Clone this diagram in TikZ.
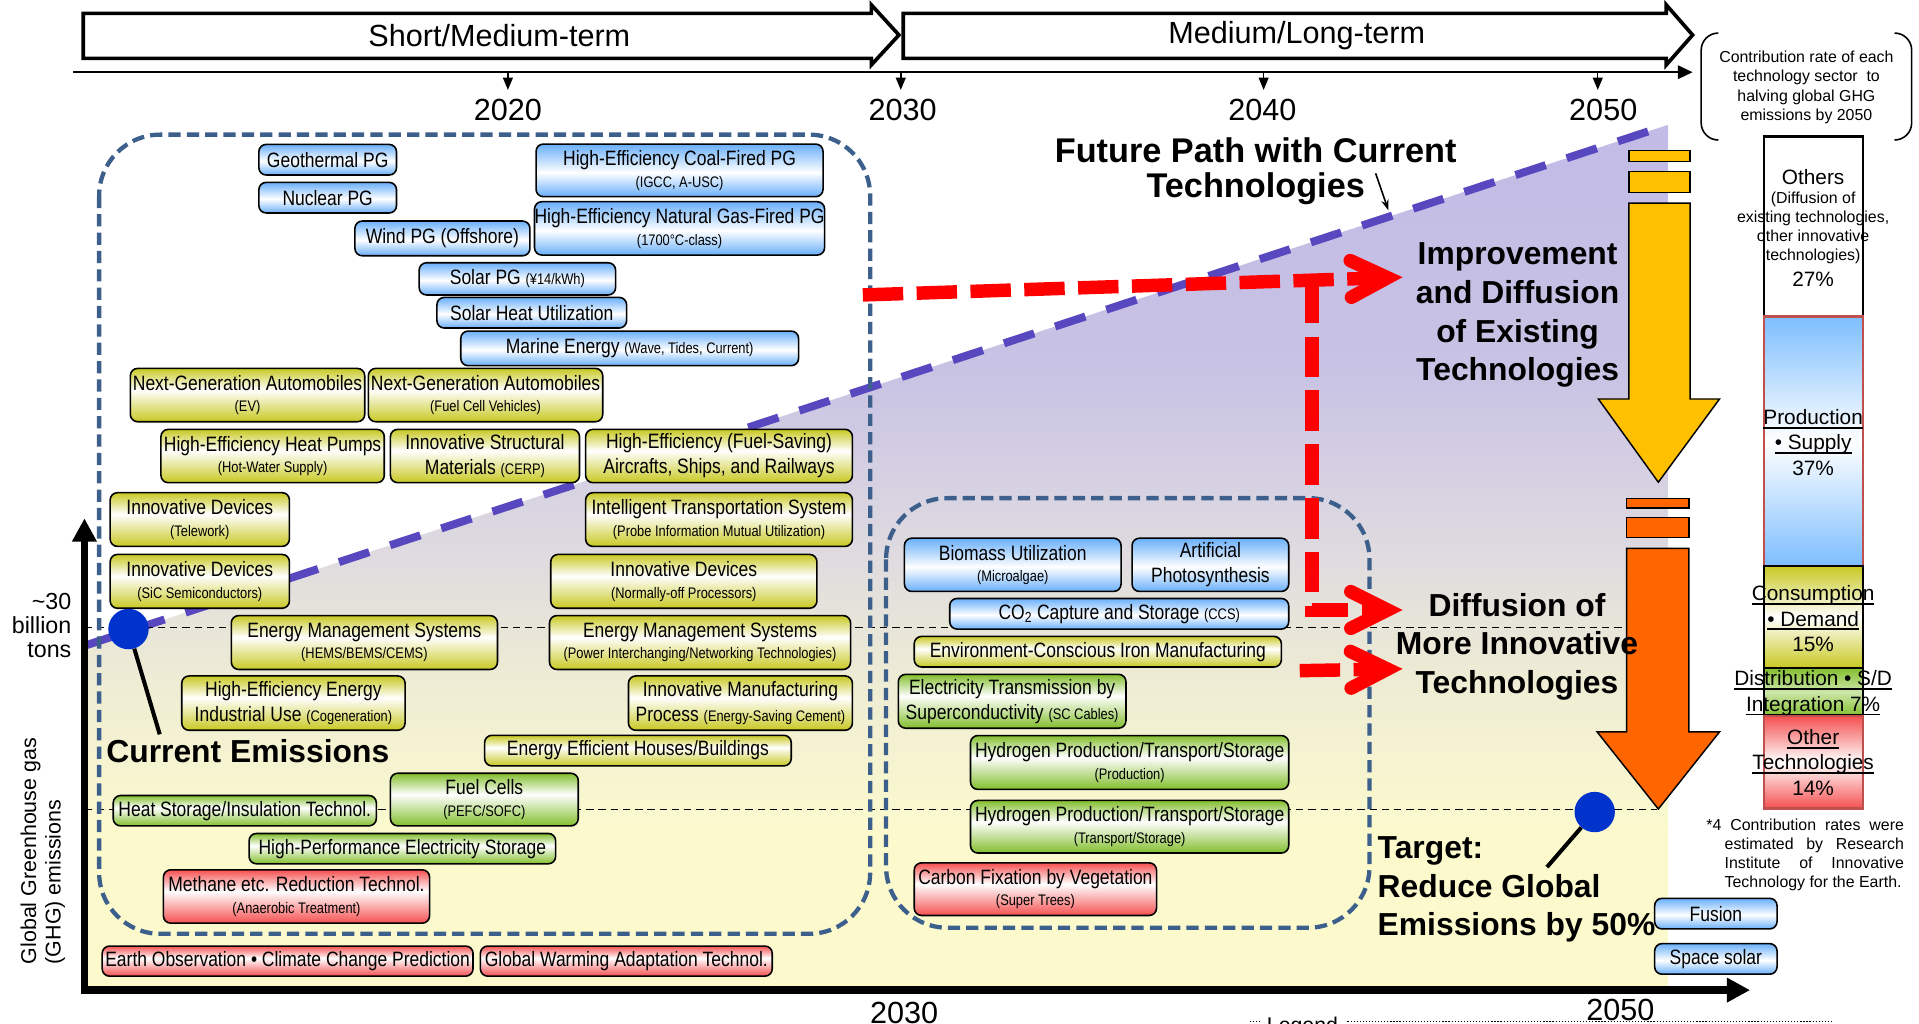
\documentclass[tikz,border=0pt]{standalone}
\usepackage{fontspec}
\setmainfont{Liberation Sans}
\newfontfamily\nar[FakeStretch=0.84]{Liberation Sans}
\usetikzlibrary{arrows.meta}

\definecolor{techblue}{RGB}{105,175,250}
\definecolor{techyel}{RGB}{200,200,35}
\definecolor{techgreen}{RGB}{130,190,45}
\definecolor{techred}{RGB}{245,80,80}
\definecolor{frameblue}{RGB}{61,95,140}
\definecolor{pathpurple}{RGB}{88,72,192}
\definecolor{goldflow}{RGB}{255,192,0}
\definecolor{orangeflow}{RGB}{255,102,0}
\definecolor{dotblue}{RGB}{0,51,204}
\definecolor{barblue}{RGB}{125,190,255}
\definecolor{barred}{RGB}{192,80,77}
\definecolor{bargreen}{RGB}{205,230,170}
\definecolor{bglav}{RGB}{194,187,230}
\definecolor{bglavb}{RGB}{200,194,228}
\definecolor{bggray}{RGB}{222,218,224}
\definecolor{bgyel}{RGB}{238,236,212}
\definecolor{bgyelb}{RGB}{252,250,205}

\pgfdeclareverticalshading{bgshade}{100bp}{color(0bp)=(bgyelb); color(34bp)=(bgyelb); color(43bp)=(bgyel); color(50.5bp)=(bggray); color(61bp)=(bglavb); color(75bp)=(bglav); color(100bp)=(bglav)}
\pgfdeclareverticalshading{blueshade}{100bp}{color(0bp)=(techblue); color(25bp)=(techblue); color(48bp)=(white); color(75bp)=(techblue); color(100bp)=(techblue)}
\pgfdeclareverticalshading{yelshade}{100bp}{color(0bp)=(techyel); color(25bp)=(techyel); color(55bp)=(white); color(75bp)=(techyel); color(100bp)=(techyel)}
\pgfdeclareverticalshading{greenshade}{100bp}{color(0bp)=(techgreen); color(25bp)=(techgreen); color(55bp)=(white); color(75bp)=(techgreen); color(100bp)=(techgreen)}
\pgfdeclareverticalshading{redshade}{100bp}{color(0bp)=(techred); color(25bp)=(techred); color(55bp)=(white); color(75bp)=(techred); color(100bp)=(techred)}

\newcommand{\subtxt}[1]{{\fontsize{12.5}{14}\selectfont #1}}
\newsavebox{\ulbox}
\newcommand{\ulbar}[1]{\sbox{\ulbox}{#1}\rlap{\rule[-3.5pt]{\wd\ulbox}{1.6pt}}\usebox{\ulbox}}

\tikzset{
  techbox/.style={draw=black, line width=1.3pt, rounded corners=6pt, inner sep=0pt, align=center, font=\nar\fontsize{17}{20.5}\selectfont},
  bluebox/.style={techbox, shading=blueshade},
  yelbox/.style={techbox, shading=yelshade},
  greenbox/.style={techbox, shading=greenshade},
  redbox/.style={techbox, shading=redshade},
  wh/.style 2 args={minimum width=#1pt, minimum height=#2pt},
  framebox/.style={draw=frameblue, line width=3.5pt, dash pattern=on 10pt off 5pt, rounded corners=50pt},
  level/.style={draw=black, line width=1pt, dash pattern=on 6pt off 4pt},
  redflow/.style={draw=red, line width=11pt, dash pattern=on 33pt off 11pt, -{Straight Barb[length=30pt, width=30pt, line cap=round, line join=miter]}},
  flowshape/.style={draw=black, line width=1.2pt},
  termarrow/.style={draw=black, fill=white, line width=3pt, line join=miter},
  axisline/.style={line width=6pt, -{Triangle[length=19pt, width=19pt]}},
  boldlbl/.style={font=\bfseries\fontsize{26}{31.5}\selectfont, align=center, inner sep=0pt},
  yearlbl/.style={font=\fontsize{25}{28}\selectfont, inner sep=0pt},
  dotnode/.style={circle, fill=dotblue, minimum size=33pt, inner sep=0pt},
  pointer/.style={draw=black, line width=3.3pt},
  bartext/.style={font=\fontsize{17}{20.8}\selectfont, align=center, inner sep=0pt},
  barsmall/.style={font=\fontsize{13}{15.5}\selectfont, align=center, inner sep=0pt}
}

\begin{document}
\begin{tikzpicture}[x=1pt, y=-1pt]
\useasboundingbox (0,0) rectangle (1568,836);
% area under the current path
\shade[shading=bgshade] (68,528) -- (1363,102) -- (1363,809) -- (68,809) -- cycle;
\draw[line width=6.5pt, pathpurple, dash pattern=on 26pt off 18pt] (68,528) -- (1360,103);
\draw[level] (69,513) -- (1329,513);
\draw[level] (69,661.5) -- (1354,661.5);

% the two time frames
\draw[framebox] (81,110) rectangle (711,763);
\draw[framebox] (724,407) rectangle (1119,758);

% short/medium-term technologies
\node[bluebox, wh={112.5}{25}] (geo) at (267.75,130.5) {Geothermal PG};
\node[bluebox, wh={112.5}{25}] (nuc) at (267.75,161.5) {Nuclear PG};
\node[bluebox, wh={143}{28.4}] (wind) at (361.5,194.8) {Wind PG (Offshore)};
\node[bluebox, wh={234.5}{43}] (coal) at (555.25,139.2) {High-Efficiency Coal-Fired PG\\[-3pt]\subtxt{(IGCC, A-USC)}};
\node[bluebox, wh={234.5}{43.6}] (gas) at (555.25,186.6) {High-Efficiency Natural Gas-Fired PG\\[-3pt]\subtxt{(1700°C-class)}};
\node[bluebox, wh={160.5}{26.3}] (solarpg) at (422.75,227.85) {Solar PG \subtxt{(¥14/kWh)}};
\node[bluebox, wh={155}{25}] (solarheat) at (434.5,255.5) {Solar Heat Utilization};
\node[bluebox, wh={276}{28.3}] (marine) at (514.5,284.65) {Marine Energy \subtxt{(Wave, Tides, Current)}};
\node[yelbox, wh={191.5}{43.6}] (ngaev) at (202.25,322.8) {Next-Generation Automobiles\\[-3pt]\subtxt{(EV)}};
\node[yelbox, wh={191.5}{43.6}] (ngafcv) at (396.75,322.8) {Next-Generation Automobiles\\[-3pt]\subtxt{(Fuel Cell Vehicles)}};
\node[yelbox, wh={182.5}{43.6}] (heatpump) at (222.75,372.6) {High-Efficiency Heat Pumps\\[-3pt]\subtxt{(Hot-Water Supply)}};
\node[yelbox, wh={154.5}{43.6}] (struct) at (396.25,372.6) {Innovative Structural\\Materials \subtxt{(CERP)}};
\node[yelbox, wh={218}{43.6}] (aircraft) at (587.5,372.6) {High-Efficiency (Fuel-Saving)\\Aircrafts, Ships, and Railways};
\node[yelbox, wh={146.5}{43.9}] (telework) at (163.25,424.5) {Innovative Devices\\[-3pt]\subtxt{(Telework)}};
\node[yelbox, wh={218}{43.9}] (its) at (587.5,424.5) {Intelligent Transportation System\\[-3pt]\subtxt{(Probe Information Mutual Utilization)}};
\node[yelbox, wh={146.5}{44}] (sic) at (163.25,475) {Innovative Devices\\[-3pt]\subtxt{(SiC Semiconductors)}};
\node[yelbox, wh={217.5}{44}] (normoff) at (558.75,475) {Innovative Devices\\[-3pt]\subtxt{(Normally-off Processors)}};
\node[yelbox, wh={217.5}{44}] (emshome) at (297.75,525) {Energy Management Systems\\[-3pt]\subtxt{(HEMS/BEMS/CEMS)}};
\node[yelbox, wh={246}{44}] (emsnet) at (572,525) {Energy Management Systems\\[-3pt]\subtxt{(Power Interchanging/Networking Technologies)}};
\node[yelbox, wh={182.5}{44.4}] (cogen) at (239.75,574.5) {High-Efficiency Energy\\Industrial Use \subtxt{(Cogeneration)}};
\node[yelbox, wh={183}{44.4}] (manuf) at (605,574.5) {Innovative Manufacturing\\Process \subtxt{(Energy-Saving Cement)}};
\node[yelbox, wh={250.5}{25}] (houses) at (521.25,613.3) {Energy Efficient Houses/Buildings};
\node[greenbox, wh={153.5}{43}] (fuelcell) at (395.75,653.3) {Fuel Cells\\[-3pt]\subtxt{(PEFC/SOFC)}};
\node[greenbox, wh={215}{24.8}] (heatstore) at (200,662.4) {Heat Storage/Insulation Technol.};
\node[greenbox, wh={250.5}{24.8}] (elstore) at (328.75,693.4) {High-Performance Electricity Storage};
\node[redbox, wh={217.5}{43.6}] (methane) at (242.25,732.5) {Methane etc. Reduction Technol.\\[-3pt]\subtxt{(Anaerobic Treatment)}};
\node[redbox, wh={303}{24.6}] (earthobs) at (235,785.3) {Earth Observation • Climate Change Prediction};
\node[redbox, wh={238.5}{24.6}] (adapt) at (511.75,785.3) {Global Warming Adaptation Technol.};

% medium/long-term technologies
\node[bluebox, wh={177}{43.5}] (biomass) at (827.5,461.5) {Biomass Utilization\\[-3pt]\subtxt{(Microalgae)}};
\node[bluebox, wh={128}{43.5}] (photo) at (989,461.5) {Artificial\\Photosynthesis};
\node[bluebox, wh={277}{25}] (ccs) at (914.5,501.5) {CO\textsubscript{2} Capture and Storage \subtxt{(CCS)}};
\node[yelbox, wh={300}{25}] (iron) at (897,532.5) {Environment-Conscious Iron Manufacturing};
\node[greenbox, wh={186}{44}] (sccable) at (827,573) {Electricity Transmission by\\Superconductivity \subtxt{(SC Cables)}};
\node[greenbox, wh={260}{44}] (htwoprod) at (923,623) {Hydrogen Production/Transport/Storage\\[-3pt]\subtxt{(Production)}};
\node[greenbox, wh={260}{43}] (htwotrans) at (923,675.5) {Hydrogen Production/Transport/Storage\\[-3pt]\subtxt{(Transport/Storage)}};
\node[redbox, wh={198}{43}] (carbon) at (846,726.5) {Carbon Fixation by Vegetation\\[-3pt]\subtxt{(Super Trees)}};
\node[bluebox, wh={100}{25}] (fusion) at (1402,746.5) {Fusion};
\node[bluebox, wh={100}{25}] (spacesolar) at (1402,783.5) {Space solar};

% red flows
\coordinate (flowAa) at (705,241);
\coordinate (flowAb) at (1146,226.5);
\coordinate (flowBa) at (1072,231);
\coordinate (flowBb) at (1072,498.4);
\coordinate (flowBc) at (1146,498.4);
\coordinate (flowCa) at (1062,548);
\coordinate (flowCb) at (1146,546.5);
\draw[redflow] (flowAa) -- (flowAb);
\draw[redflow] (flowBa) -- (flowBb) -- (flowBc);
\draw[redflow] (flowCa) -- (flowCb);

% reduction arrows
\filldraw[flowshape, fill=goldflow] (1331,123) rectangle (1381,132);
\filldraw[flowshape, fill=goldflow] (1331,140) rectangle (1381,157.5);
\filldraw[flowshape, fill=goldflow] (1331,166) -- (1381,166) -- (1381,326) -- (1405,326) -- (1355,394) -- (1306,326) -- (1331,326) -- cycle;
\filldraw[flowshape, fill=orangeflow] (1329,407.5) rectangle (1380,415);
\filldraw[flowshape, fill=orangeflow] (1329,423) rectangle (1380,439);
\filldraw[flowshape, fill=orangeflow] (1329,448) -- (1380,448) -- (1380,598) -- (1405,598) -- (1355,661) -- (1305,598) -- (1329,598) -- cycle;

% labels
\node[boldlbl, font=\bfseries\fontsize{28}{29}\selectfont] (futpath) at (1026,140) {Future Path with Current\\Technologies};
\coordinate (futtail) at (1124,141.6);
\coordinate (futhead) at (1134.5,172);
\draw[line width=1.3pt, -{Stealth[length=9pt, width=6pt]}] (futtail) -- (futhead);
\node[boldlbl] (improve) at (1240,257.5) {Improvement\\and Diffusion\\of Existing\\Technologies};
\node[boldlbl] (innov) at (1239.5,528.5) {Diffusion of\\More Innovative\\Technologies};
\node[boldlbl, align=left, anchor=west] (target) at (1125.5,727) {Target:\\Reduce Global\\Emissions by 50\%};
\node[boldlbl] (curem) at (202.5,614) {Current Emissions};
\node[font=\fontsize{19}{19.5}\selectfont, align=right, anchor=east, inner sep=0pt] (amount) at (58.5,511) {\textasciitilde 30\\billion\\tons};
\node[rotate=90, anchor=west, align=left, font=\fontsize{17.5}{20}\selectfont, inner sep=0pt] (ylabel) at (35,788) {Global Greenhouse gas\\(GHG) emissions};

% axes
\draw[axisline] (69,812) -- (69,423.5);
\draw[axisline] (66,809) -- (1430,809);
\node[yearlbl, anchor=base] (ax2030) at (738.75,836) {2030};
\node[yearlbl, anchor=base] (ax2050) at (1324,833.5) {2050};

% time frame arrows
\draw[termarrow] (68,10.9) -- (712,10.9) -- (712,4) -- (734.5,28.6) -- (712,53) -- (712,47.7) -- (68,47.7) -- cycle;
\draw[termarrow] (738,10.9) -- (1361.5,10.9) -- (1361.5,4) -- (1383,28.6) -- (1361.5,53) -- (1361.5,47.7) -- (738,47.7) -- cycle;
\node[font=\fontsize{25}{28}\selectfont, inner sep=0pt] (shortterm) at (408,29) {Short/Medium-term};
\node[font=\fontsize{25}{28}\selectfont, inner sep=0pt] (longterm) at (1059.5,29) {Medium/Long-term};
\draw[line width=1.5pt, -{Triangle[length=12pt, width=11pt]}] (60,59) -- (1383,59);
\foreach \xx in {415,736,1032.5,1305.5}
  \draw[line width=1.2pt, -{Triangle[length=10pt, width=8pt]}] (\xx,59) -- (\xx,73.5);
\foreach \yr/\xx in {2020/415,2030/737.5,2040/1031.5,2050/1310}
  \node[yearlbl] (yr\yr) at (\xx,90) {\yr};

% current and target emissions
\node[dotnode] (nowdot) at (105,514) {};
\node[dotnode] (goaldot) at (1303,663.5) {};
\coordinate (nowtip) at (130.5,600);
\coordinate (goaltip) at (1264,708.5);
\draw[pointer] (nowdot) -- (nowtip);
\draw[pointer] (goaldot) -- (goaltip);

% contribution rates
\draw[line width=1.3pt, rounded corners=14pt] (1404,27) -- (1390,27) -- (1390,114.4) -- (1404,114.4);
\draw[line width=1.3pt, rounded corners=14pt] (1548,27) -- (1562,27) -- (1562,114.4) -- (1548,114.4);
\node[font=\fontsize{13}{15.9}\selectfont, align=center, inner sep=0pt] (contrib) at (1476,71.5) {Contribution rate of each\\technology sector\ \ to\\halving global GHG\\emissions by 2050};
\draw[line width=2pt, fill=white] (1441.5,111.7) rectangle (1522,258.7);
\draw[line width=2pt, draw=barred, top color=barblue, bottom color=barblue, middle color=white] (1441.5,258.7) rectangle (1522,462.5);
\draw[line width=2pt, draw=black, top color=techyel, bottom color=techyel, middle color=white] (1441.5,462.5) rectangle (1522,545.6);
\draw[line width=2pt, draw=black, top color=techgreen, bottom color=techgreen, middle color=bargreen] (1441.5,545.6) rectangle (1522,585);
\draw[line width=2pt, draw=barred, top color=techred, bottom color=techred, middle color=white] (1441.5,585) rectangle (1522,660.7);
\node[bartext] (othttl) at (1481.5,144.4) {Others};
\node[barsmall] (othsub) at (1481.5,186) {(Diffusion of\\existing technologies,\\other innovative\\technologies)};
\node[bartext] (othpct) at (1481.5,228) {27\%};
\node[bartext] (prodtxt) at (1481.5,361.5) {\ulbar{Production}\\\ulbar{• Supply}\\37\%};
\node[bartext] (constxt) at (1481.5,505.5) {\ulbar{Consumption}\\\ulbar{• Demand}\\15\%};
\node[bartext] (disttxt) at (1481.5,566.3) {\ulbar{Distribution • S/D}\\\ulbar{Integration 7\%}};
\node[bartext] (othertxt) at (1481.5,623) {\ulbar{Other}\\\ulbar{Technologies}\\14\%};
\node[text width=146.5pt, align=justify, font=\fontsize{13}{15.5}\selectfont, inner sep=0pt, anchor=north west] (note) at (1409,669) {\noindent\hspace*{-15pt}*4 Contribution rates were\linebreak estimated by Research\linebreak Institute of Innovative\linebreak Technology for the Earth.};

% legend (cut off at the bottom)
\node[font=\fontsize{17.4}{20}\selectfont, anchor=base west, inner sep=0pt] (legend) at (1035,843.5) {Legend};
\draw[line width=0.8pt, dash pattern=on 1pt off 1.5pt] (1021,834.7) -- (1029,834.7);
\draw[line width=0.8pt, dash pattern=on 1pt off 1.5pt] (1101,834.7) -- (1498,834.7);
\end{tikzpicture}
\end{document}
